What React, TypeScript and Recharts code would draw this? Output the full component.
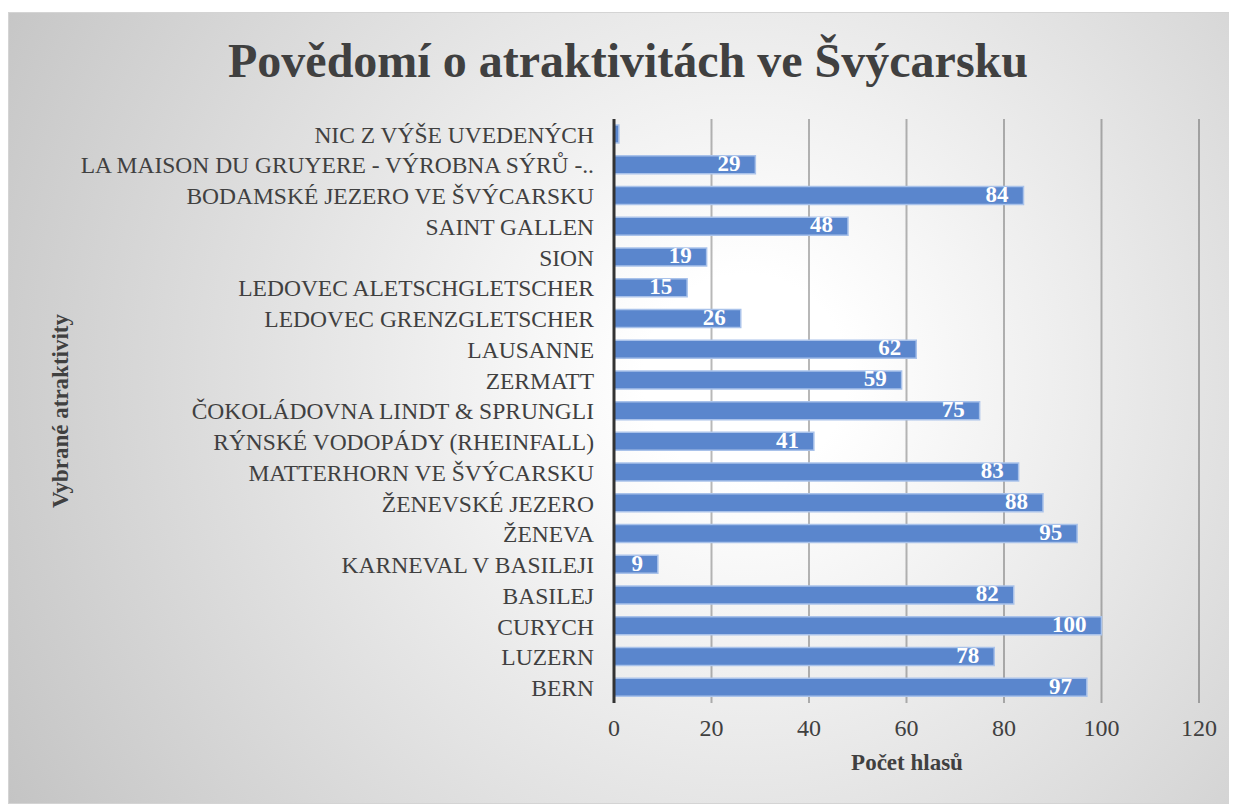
import { BarChart, Bar, XAxis, YAxis, CartesianGrid, LabelList } from 'recharts';

const attractions = [
  'NIC Z VÝŠE UVEDENÝCH',
  'LA MAISON DU GRUYERE - VÝROBNA SÝRŮ -..',
  'BODAMSKÉ JEZERO VE ŠVÝCARSKU',
  'SAINT GALLEN',
  'SION',
  'LEDOVEC ALETSCHGLETSCHER',
  'LEDOVEC GRENZGLETSCHER',
  'LAUSANNE',
  'ZERMATT',
  'ČOKOLÁDOVNA LINDT & SPRUNGLI',
  'RÝNSKÉ VODOPÁDY (RHEINFALL)',
  'MATTERHORN VE ŠVÝCARSKU',
  'ŽENEVSKÉ JEZERO',
  'ŽENEVA',
  'KARNEVAL V BASILEJI',
  'BASILEJ',
  'CURYCH',
  'LUZERN',
  'BERN',
];

const votes = [1, 29, 84, 48, 19, 15, 26, 62, 59, 75, 41, 83, 88, 95, 9, 82, 100, 78, 97];

const xTicks = [0, 20, 40, 60, 80, 100, 120];

const chartData = attractions.map((name, i) => ({ name, votes: votes[i] }));

const serif = '"Liberation Serif", "Times New Roman", serif';

// white value printed inside the end of each bar
function BarValue(props: any) {
  const { x, y, width, height, value } = props;
  if (value < 2) return null;
  return (
    <text
      x={x + width - 15}
      y={y + height / 2 + 1}
      textAnchor="end"
      dominantBaseline="middle"
      fill="#ffffff"
      fontFamily={serif}
      fontWeight="bold"
      fontSize={23}
    >
      {value}
    </text>
  );
}

export default function App() {
  return (
    <div
      style={{
        position: 'relative',
        width: 1229,
        height: 792,
        marginTop: 4,
        boxSizing: 'border-box',
        border: '1px solid #d4d4d4',
        background: 'radial-gradient(circle at 60% 46%, #ffffff 12%, #c4c4c4 100%)',
        fontFamily: serif,
      }}
    >
      <div
        style={{
          position: 'absolute',
          left: 0,
          width: 1238,
          top: 19,
          textAlign: 'center',
          fontSize: 48,
          fontWeight: 'bold',
          color: '#404040',
          lineHeight: '58px',
        }}
      >
        Povědomí o atraktivitách ve Švýcarsku
      </div>
      <div
        style={{
          position: 'absolute',
          left: 52 - 150,
          top: 398 - 15,
          width: 300,
          textAlign: 'center',
          transform: 'rotate(-90deg)',
          fontSize: 23,
          fontWeight: 'bold',
          color: '#404040',
          lineHeight: '30px',
        }}
      >
        Vybrané atraktivity
      </div>
      <div
        style={{
          position: 'absolute',
          left: 898 - 150,
          top: 735,
          width: 300,
          textAlign: 'center',
          fontSize: 23,
          fontWeight: 'bold',
          color: '#404040',
          lineHeight: '30px',
        }}
      >
        Počet hlasů
      </div>
      <div style={{ position: 'absolute', left: 0, top: 0 }}>
        <BarChart
          width={1227}
          height={790}
          layout="vertical"
          data={chartData}
          margin={{ top: 106, right: 37, bottom: 0, left: 0 }}
        >
          <CartesianGrid
            horizontal={false}
            vertical={true}
            stroke="rgba(0,0,0,0.28)"
            strokeWidth={2}
          />
          <XAxis
            type="number"
            domain={[0, 120]}
            ticks={xTicks}
            axisLine={false}
            tickLine={false}
            tickSize={0}
            tickMargin={16}
            height={100}
            tick={{ fill: '#404040', fontSize: 24, fontFamily: serif }}
          />
          <YAxis
            type="category"
            dataKey="name"
            width={605}
            axisLine={{ stroke: '#333333', strokeWidth: 3 }}
            tickLine={false}
            tickSize={0}
            tickMargin={20}
            interval={0}
            tick={{ fill: '#404040', fontSize: 23.5, fontFamily: serif }}
          />
          <Bar
            dataKey="votes"
            fill="#5a86cd"
            stroke="#a9c2ea"
            strokeWidth={1.5}
            barSize={18}
            isAnimationActive={false}
          >
            <LabelList dataKey="votes" content={BarValue} />
          </Bar>
        </BarChart>
      </div>
    </div>
  );
}
